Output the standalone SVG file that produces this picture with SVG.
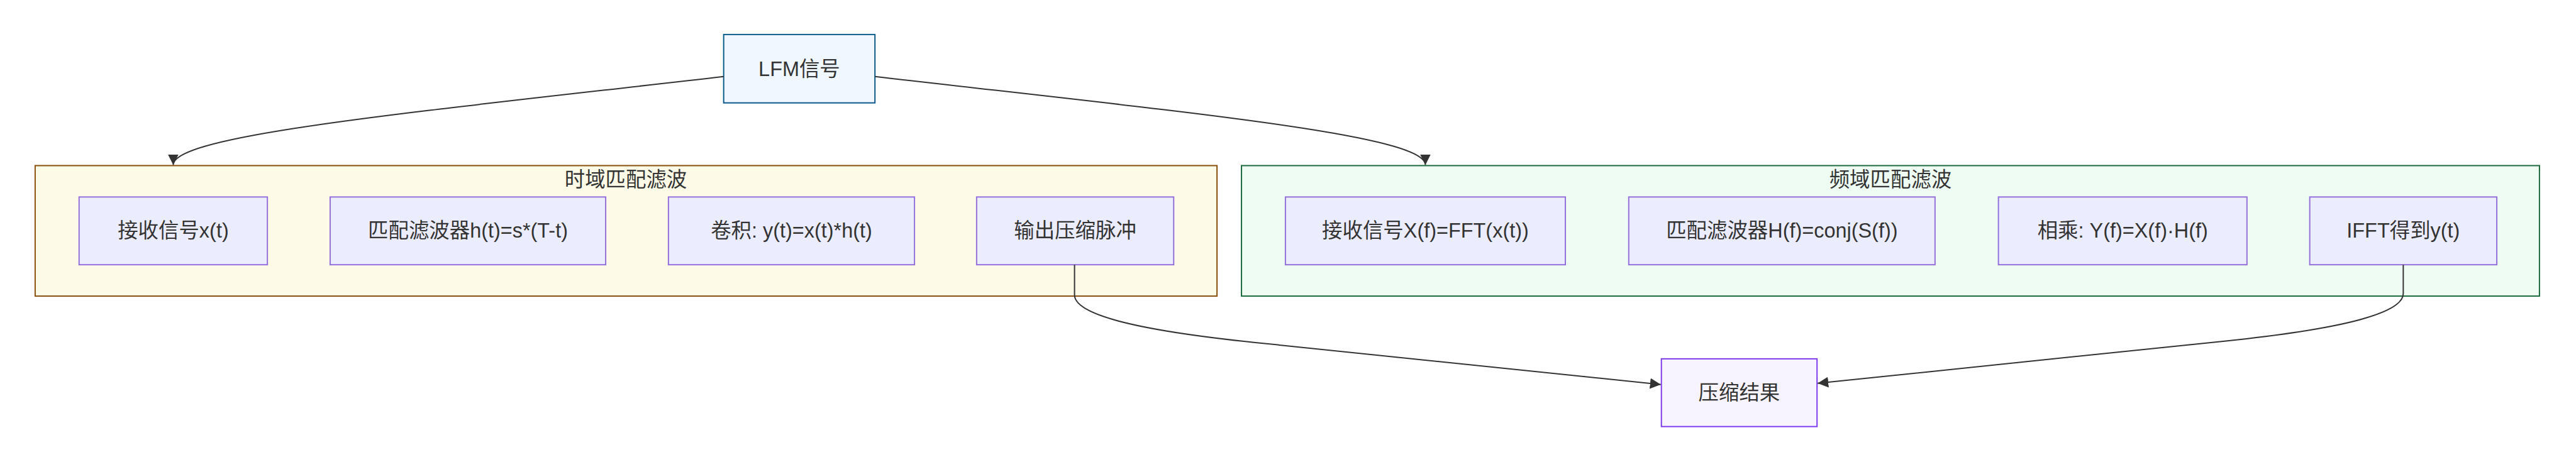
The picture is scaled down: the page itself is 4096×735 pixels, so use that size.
<svg xmlns="http://www.w3.org/2000/svg" width="4096" height="735" viewBox="0 0 4096 735">
<style>
text{font-family:"Liberation Sans","Noto Sans CJK SC",sans-serif;font-size:32.5px;fill:#333;text-anchor:middle}
.n rect{fill:#ECECFF;stroke:#9370DB;stroke-width:2}
.edge{fill:none;stroke:#333;stroke-width:2}
</style>
<defs>
<marker id="arrow" viewBox="0 0 10 10" refX="10" refY="5" markerUnits="userSpaceOnUse" markerWidth="17" markerHeight="17" orient="auto">
<path d="M0,0 L10,5 L0,10 z" fill="#333"/>
</marker>
</defs>
<rect width="4096" height="735" fill="#fff"/>
<g transform="scale(0.998)">
<g id="sg-time">
<rect x="56" y="264" width="1883" height="208" fill="#fefae8" stroke="#8a4f0a" stroke-width="2"/>
<text x="997" y="298">时域匹配滤波</text>
</g>
<g id="sg-freq">
<rect x="1978" y="264" width="2068" height="208" fill="#effcf3" stroke="#1a6b3c" stroke-width="2"/>
<text x="3012" y="298">频域匹配滤波</text>
</g>
<g id="lfm">
<rect x="1153" y="55" width="241" height="109" fill="#f0f7fe" stroke="#0b5a8a" stroke-width="2"/>
<text x="1273.5" y="121">LFM信号</text>
</g>
<g id="t1" class="n"><rect x="126" y="314" width="300" height="108"/><text x="276" y="379">接收信号x(t)</text></g>
<g id="t2" class="n"><rect x="526" y="314" width="439" height="108"/><text x="745.5" y="379">匹配滤波器h(t)=s*(T-t)</text></g>
<g id="t3" class="n"><rect x="1065" y="314" width="392" height="108"/><text x="1261" y="379">卷积: y(t)=x(t)*h(t)</text></g>
<g id="t4" class="n"><rect x="1556" y="314" width="314" height="108"/><text x="1713" y="379">输出压缩脉冲</text></g>
<g id="f1" class="n"><rect x="2048" y="314" width="446" height="108"/><text x="2271" y="379">接收信号X(f)=FFT(x(t))</text></g>
<g id="f2" class="n"><rect x="2595" y="314" width="488" height="108"/><text x="2839" y="379">匹配滤波器H(f)=conj(S(f))</text></g>
<g id="f3" class="n"><rect x="3184" y="314" width="396" height="108"/><text x="3382" y="379">相乘: Y(f)=X(f)·H(f)</text></g>
<g id="f4" class="n"><rect x="3680" y="314" width="298" height="108"/><text x="3829" y="379">IFFT得到y(t)</text></g>
<g id="result">
<rect x="2647" y="572" width="248" height="108" fill="#f8f4ff" stroke="#7c3aed" stroke-width="2"/>
<text x="2771" y="637">压缩结果</text>
</g>
<g id="connectors">
<path class="edge" d="M1153,122 C650,180 276,215 276,263" marker-end="url(#arrow)"/>
<path class="edge" d="M1394,122 C1897,180 2271,215 2271,263" marker-end="url(#arrow)"/>
<path class="edge" d="M1712,422 L1712,470 C1712,500 1800,525.3 2000,546 L2646,613" marker-end="url(#arrow)"/>
<path class="edge" d="M3829,422 L3829,468 C3829,498 3742,523.3 3542,544 L2896,611" marker-end="url(#arrow)"/>
</g>
</g>
</svg>
